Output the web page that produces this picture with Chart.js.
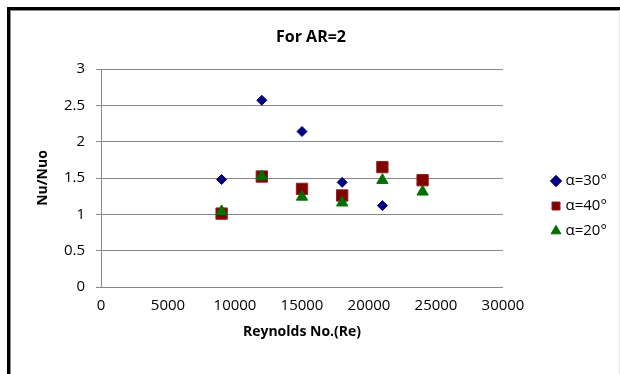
<!DOCTYPE html>
<html>
<head>
<meta charset="utf-8">
<script src="https://cdn.jsdelivr.net/npm/chart.js@4.4.1/dist/chart.umd.min.js"></script>
<style>
  body { margin: 0; background: #fff; }
  #wrap { position: relative; width: 620px; height: 374px; overflow: hidden; }
  .frame { position: absolute; left: 7px; top: 7px; right: -5px; bottom: -10px;
           border-top: 3px solid #000; border-left: 3px solid #000; }
  .inner { position: absolute; left: 10px; top: 10px; right: -5px; bottom: -10px;
           border-top: 1px solid #8a8a8a; border-left: 1px solid #8a8a8a; }
  .edge { position: absolute; right: 0; top: 10px; width: 1px; bottom: 0; background: #e4e4e4; }
  canvas { position: absolute; left: 0; top: 0; }
</style>
</head>
<body>
<div id="wrap">
  <div class="frame"></div>
  <div class="inner"></div>
  <div class="edge"></div>
  <canvas id="chart" width="620" height="374"></canvas>
</div>
<script>
// данні з графіка
const reynolds = [9000, 12000, 15000, 18000, 21000, 24000];
const nu30 = [1.48, 2.57, 2.14, 1.44, 1.12];
const nu40 = [1.01, 1.52, 1.35, 1.26, 1.65, 1.47];
const nu20 = [1.04, 1.52, 1.24, 1.16, 1.47, 1.31];
const seriesNames = ['α=30°', 'α=40°', 'α=20°'];
const xTicks = [0, 5000, 10000, 15000, 20000, 25000, 30000];
const yTicks = [0, 0.5, 1, 1.5, 2, 2.5, 3];

const toPoints = vals => vals.map((v, i) => ({ x: reynolds[i], y: v }));

const font = 'Open Sans';
const gridColor = '#868686';

new Chart(document.getElementById('chart'), {
    type: 'scatter',
    data: {
        datasets: [
            {
                label: seriesNames[0],
                data: toPoints(nu30),
                pointStyle: 'rectRot',
                pointRadius: 5,
                backgroundColor: '#000080',
                borderColor: '#000080',
                borderWidth: 1,
                yAxisID: 'y',
                order: 0
            },
            {
                label: seriesNames[1],
                data: toPoints(nu40),
                pointStyle: 'rect',
                pointRadius: 8,
                backgroundColor: '#800000',
                borderColor: '#8e2020',
                borderWidth: 1,
                yAxisID: 'y',
                order: 2
            },
            {
                label: seriesNames[2],
                data: toPoints(nu20),
                pointStyle: 'triangle',
                pointRadius: 6.5,
                backgroundColor: '#007000',
                borderColor: '#007000',
                borderWidth: 1,
                yAxisID: 'y',
                order: 1
            }
        ]
    },
    options: {
        responsive: false,
        animation: false,
        events: [],
        layout: { padding: { top: 10, left: 12, right: 10, bottom: 28 } },
        plugins: {
            title: {
                display: true,
                text: 'For AR=2',
                color: '#000',
                font: { family: font, size: 16, weight: 'bold' },
                padding: { top: 17.4, bottom: 22.4 }
            },
            legend: {
                position: 'right',
                maxWidth: 66,
                title: { display: true, text: ' ', font: { family: font, size: 14 }, padding: { top: 0, bottom: 39.2 } },
                labels: {
                    usePointStyle: true,
                    boxWidth: 4,
                    boxHeight: 8,
                    padding: 10,
                    color: '#000',
                    font: { family: font, size: 15 },
                    sort: (a, b) => a.datasetIndex - b.datasetIndex
                }
            },
            tooltip: { enabled: false }
        },
        scales: {
            x: {
                type: 'linear',
                min: xTicks[0],
                max: xTicks[xTicks.length - 1],
                afterBuildTicks: s => { s.ticks = xTicks.map(v => ({ value: v })); },
                afterFit: s => { s.height = 59; },
                grid: { display: false, drawTicks: false },
                border: { display: false },
                ticks: {
                    color: '#000',
                    padding: 10,
                    font: { family: font, size: 15 },
                    callback: v => String(v)
                },
                title: {
                    display: true,
                    text: 'Reynolds No.(Re)',
                    color: '#000',
                    font: { family: font, size: 14, weight: 'bold' },
                    padding: { top: 0, bottom: 5.6 }
                }
            },
            y: {
                type: 'linear',
                position: 'left',
                min: yTicks[0],
                max: yTicks[yTicks.length - 1],
                afterBuildTicks: s => { s.ticks = yTicks.map(v => ({ value: v })); },
                afterFit: s => { s.width = 89; },
                grid: { color: gridColor, tickColor: gridColor, tickLength: 5, lineWidth: 1 },
                border: { display: true, color: gridColor },
                ticks: {
                    color: '#000',
                    padding: 11,
                    font: { family: font, size: 15 },
                    callback: v => String(v)
                },
                title: {
                    display: true,
                    text: 'Nu/Nuo',
                    color: '#000',
                    font: { family: font, size: 14, weight: 'bold' },
                    padding: { top: 22.6, bottom: 0 }
                }
            },
            // пустий відступ між графіком і легендою
            y2: {
                type: 'linear',
                position: 'right',
                display: true,
                afterFit: s => { s.width = 41; },
                grid: { display: false },
                border: { display: false },
                ticks: { display: false }
            }
        }
    }
});
</script>
</body>
</html>
